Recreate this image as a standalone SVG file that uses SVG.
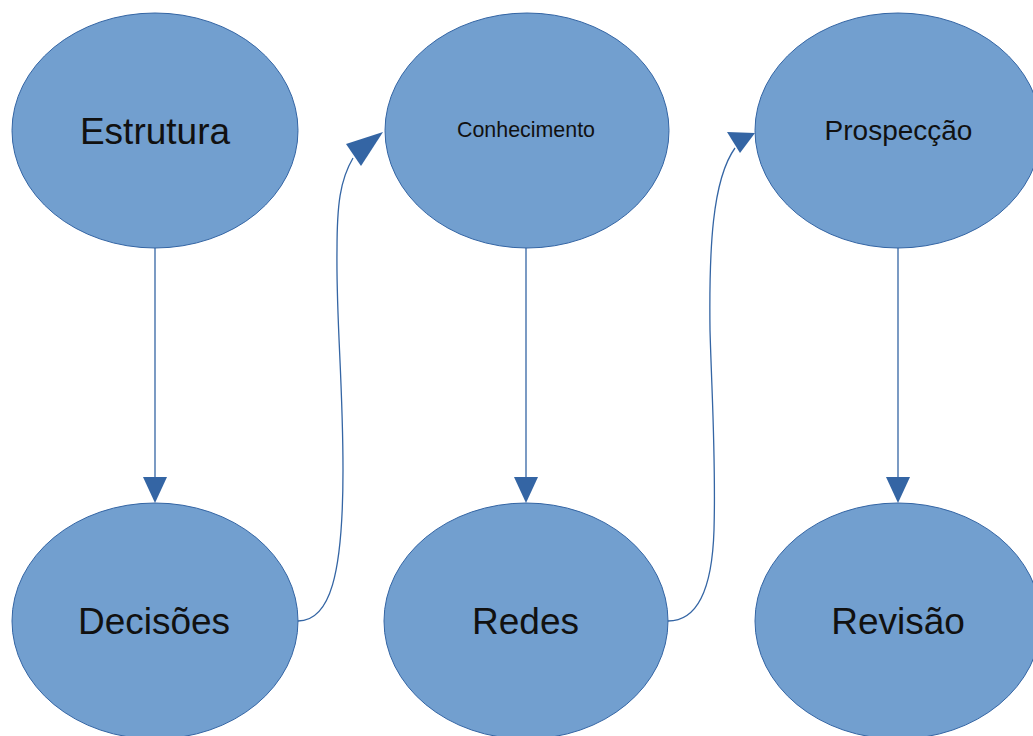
<svg xmlns="http://www.w3.org/2000/svg" width="1033" height="736" viewBox="0 0 1033 736">
  <defs>
    <style>
      .node ellipse { fill: #729fcf; stroke: #3465a4; stroke-width: 1; }
      .node text { font-family: "Liberation Sans", Arial, sans-serif; fill: #111; text-anchor: middle; }
      .conn { fill: none; stroke: #3465a4; stroke-width: 1.3; }
      .head { fill: #3465a4; stroke: none; }
    </style>
  </defs>
  <rect width="1033" height="736" fill="#ffffff"/>

  <g id="connectors">
    <line class="conn" x1="155" y1="248" x2="155" y2="480"/>
    <polygon class="head" points="143,477 167,477 155,503"/>
    <line class="conn" x1="526" y1="248" x2="526" y2="480"/>
    <polygon class="head" points="514,477 538,477 526,503"/>
    <line class="conn" x1="898" y1="248" x2="898" y2="480"/>
    <polygon class="head" points="886,477 910,477 898,503"/>
    <path class="conn" d="M298,621 C330,621 343,575 343,470 C343,380 336,320 337,250 C337,205 340,180 353,158"/>
    <polygon class="head" points="383,132 346,144 361,166"/>
    <path class="conn" d="M668,621 C695,621 712,595 714,530 C716,460 712,400 710,330 C709,250 712,180 735,148"/>
    <polygon class="head" points="755,133 727,132 740,153"/>
  </g>

  <g id="node-estrutura" class="node">
    <ellipse cx="155" cy="130.5" rx="143" ry="117.5"/>
    <text x="155" y="144" font-size="37">Estrutura</text>
  </g>
  <g id="node-conhecimento" class="node">
    <ellipse cx="527" cy="130.5" rx="142" ry="117.5"/>
    <text x="526" y="137" font-size="22" textLength="138" lengthAdjust="spacingAndGlyphs">Conhecimento</text>
  </g>
  <g id="node-prospeccao" class="node">
    <ellipse cx="898" cy="130.5" rx="143" ry="117.5"/>
    <text x="898.5" y="140" font-size="28">Prospecção</text>
  </g>
  <g id="node-decisoes" class="node">
    <ellipse cx="155" cy="621" rx="143" ry="118"/>
    <text x="154" y="634" font-size="37">Decisões</text>
  </g>
  <g id="node-redes" class="node">
    <ellipse cx="526" cy="621" rx="142" ry="118"/>
    <text x="525.5" y="634" font-size="37">Redes</text>
  </g>
  <g id="node-revisao" class="node">
    <ellipse cx="898" cy="621" rx="143" ry="118"/>
    <text x="898" y="634" font-size="37">Revisão</text>
  </g>
</svg>
